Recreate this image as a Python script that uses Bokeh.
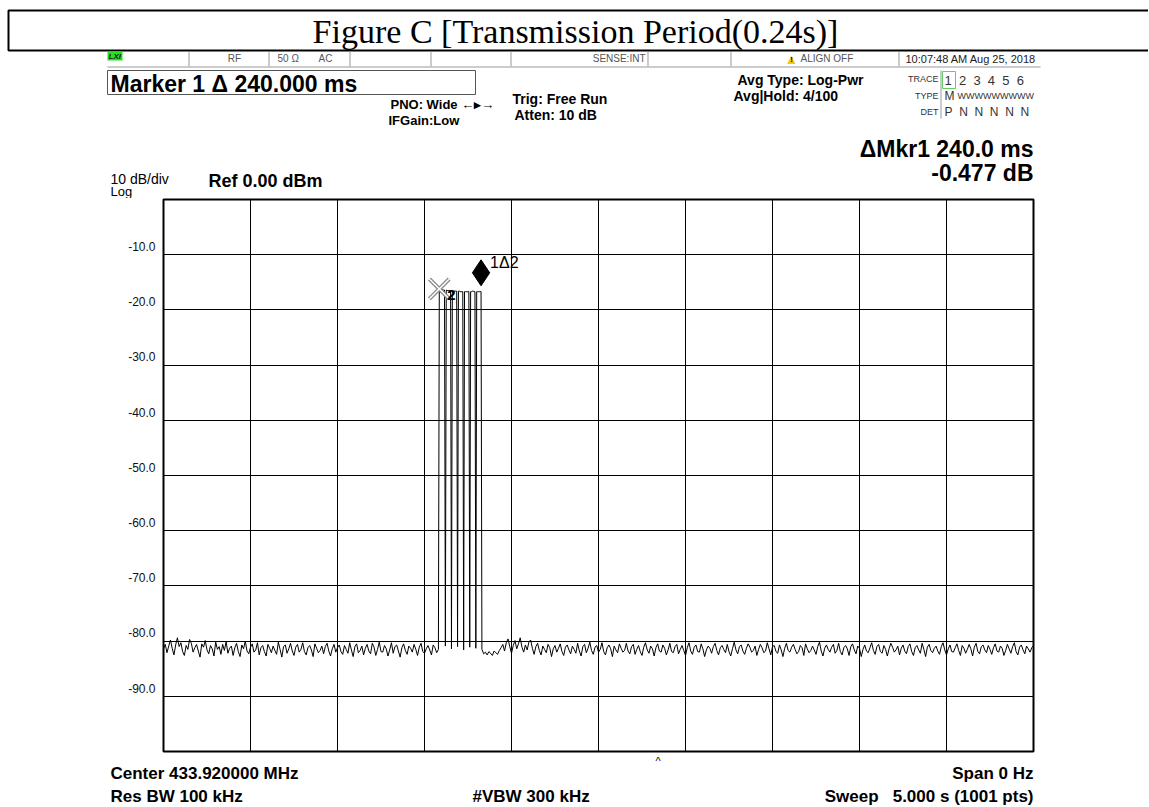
from bokeh.plotting import figure
from bokeh.models import (Range1d, FixedTicker, PrintfTickFormatter, Label,
                          BoxAnnotation, LinearAxis)
from bokeh.embed import file_html
from bokeh.resources import INLINE
import numpy as np

# ---------------- data ----------------
SWEEP_S = 5.0
REF_DBM = 0.0
DB_PER_DIV = 10.0
Y_TICKS = [-10, -20, -30, -40, -50, -60, -70, -80, -90]
X_GRID = [0.5, 1.0, 1.5, 2.0, 2.5, 3.0, 3.5, 4.0, 4.5]

BEFORE_T0, BEFORE_STEP = 0.0, 0.01
noise_before_db = [
    -81.4, -80.6, -82.1, -80.9, -79.8, -81.3, -82.5, -80.7, -79.4, -81.0,
    -80.3, -81.9, -82.6, -80.8, -81.5, -79.7, -80.4, -82.0, -81.2, -80.6,
    -81.8, -82.9, -80.5, -81.1, -79.9, -81.6, -82.3, -80.8, -81.4, -82.7,
    -80.2, -81.5, -81.0, -82.4, -80.6, -81.7, -80.1, -82.2, -81.3, -80.9,
    -82.6, -81.2, -80.4, -81.9, -82.8, -80.7, -81.4, -80.0, -81.8, -82.3,
    -81.1, -80.5, -82.0, -81.6, -80.3, -82.5, -81.2, -80.8, -81.9, -82.7,
    -80.6, -81.3, -82.1, -80.9, -81.7, -82.4, -80.2, -81.5, -82.9, -81.0,
    -80.7, -82.2, -81.4, -80.4, -81.8, -82.6, -81.1, -80.6, -82.0, -81.5,
    -80.3, -81.9, -82.5, -81.2, -80.8, -81.6, -82.8, -80.5, -81.3, -82.1,
    -81.7, -80.9, -82.3, -81.0, -80.4, -81.8, -82.7, -81.4, -80.6, -82.0,
    -81.2, -80.7, -81.9, -82.4, -80.8, -81.5, -82.2, -80.3, -81.6, -82.8,
    -81.0, -80.5, -82.1, -81.7, -80.9, -82.5, -81.3, -80.6, -81.8, -82.3,
    -80.4, -81.1, -82.6, -81.5, -80.2, -81.9, -82.0, -80.8, -81.4, -82.7,
    -81.6, -80.3, -82.2, -81.0, -80.7, -81.8, -82.9, -81.2, -80.5, -81.7,
    -82.4, -80.9, -81.3, -82.0, -80.6, -81.5, -82.6, -81.1, -80.4, -81.9,
    -82.2, -81.4, -80.8, -81.6, -82.5, -80.7, -81.2, -82.1, -81.5,
]

PULSE_T0, PULSE_STEP = 1.585, 0.005
pulse_db = [
    -16.2, -16.2, -16.3, -16.3, -16.3, -16.4, -16.4, -80.9,
    -16.4, -16.5, -16.5, -16.5, -16.5, -16.5, -81.4,
    -16.6, -16.6, -16.6, -16.6, -16.6, -16.6, -81.0,
    -16.6, -16.6, -16.7, -16.7, -16.7, -16.7, -81.6,
    -16.7, -16.7, -16.7, -16.7, -16.7, -16.7, -81.1,
    -16.7, -16.7, -16.6, -16.6, -16.7, -16.7, -81.3,
    -16.7, -16.7, -16.7, -16.7, -16.7, -16.68, -81.5,
]

AFTER_T0, AFTER_STEP = 1.84, 0.01
noise_after_db = [
    -82.3, -82.0, -82.5, -81.9, -82.2, -82.6, -81.8, -82.1, -82.4, -81.7,
    -81.2, -80.6, -81.8, -80.3, -79.6, -81.0, -82.2, -80.8, -79.9, -81.4,
    -80.5, -79.4, -81.1, -82.0, -80.7, -81.6, -80.2, -79.8, -81.3, -82.4,
    -81.0, -80.4, -81.7, -82.5, -80.9, -81.5, -82.1, -80.6, -81.2, -82.8,
    -81.4, -80.8, -82.0, -81.3, -80.5, -81.9, -82.6, -81.1, -80.7, -81.6,
    -82.3, -80.9, -81.5, -82.2, -80.4, -81.8, -82.7, -81.0, -80.6, -82.1,
    -81.3, -80.2, -81.7, -82.4, -81.1, -80.8, -82.0, -81.5, -80.3, -81.9,
    -82.5, -81.2, -80.7, -81.4, -82.8, -80.9, -81.6, -82.1, -80.5, -81.3,
    -82.0, -81.7, -80.4, -81.8, -82.3, -81.0, -80.6, -82.4, -81.5, -80.8,
    -81.9, -82.6, -81.1, -80.3, -81.6, -82.2, -80.9, -81.4, -82.7, -81.2,
    -80.5, -81.8, -82.0, -80.7, -81.3, -82.5, -81.6, -80.4, -81.9, -82.1,
    -81.0, -80.6, -82.3, -81.5, -80.8, -81.7, -82.6, -81.2, -80.3, -81.8,
    -82.4, -81.1, -80.7, -81.9, -82.0, -80.5, -81.4, -82.8, -81.6, -80.9,
    -81.3, -82.2, -81.0, -80.4, -81.7, -82.5, -81.2, -80.8, -81.5, -82.1,
    -80.6, -81.9, -82.7, -81.4, -80.2, -81.6, -82.3, -81.0, -80.7, -81.8,
    -82.4, -81.3, -80.5, -81.1, -82.0, -81.7, -80.9, -82.6, -81.5, -80.6,
    -81.2, -82.1, -81.8, -80.3, -81.4, -82.5, -81.0, -80.8, -81.9, -82.2,
    -80.7, -81.6, -82.8, -81.3, -80.4, -81.7, -82.0, -81.1, -80.6, -81.5,
    -82.3, -81.9, -80.8, -81.2, -82.6, -80.5, -81.4, -82.1, -81.7, -80.9,
    -81.6, -82.4, -81.0, -80.2, -81.8, -82.7, -81.3, -80.7, -81.5, -82.0,
    -81.1, -80.6, -82.2, -81.7, -80.4, -81.9, -82.5, -81.2, -80.8, -81.4,
    -82.6, -81.0, -80.5, -81.6, -82.3, -80.9, -81.3, -82.8, -81.5, -80.7,
    -81.8, -82.1, -81.2, -80.3, -81.7, -82.4, -81.0, -80.6, -81.9, -82.2,
    -80.8, -81.5, -82.7, -81.4, -80.4, -81.1, -82.0, -81.6, -80.9, -82.5,
    -81.3, -80.7, -81.8, -82.3, -81.0, -80.5, -81.9, -82.6, -81.2, -80.8,
    -81.6, -82.2, -80.4, -81.5, -82.8, -81.1, -80.6, -81.7, -82.1, -81.3,
    -80.9, -81.8, -82.4, -81.0, -80.3, -81.6, -82.5, -81.4, -80.7, -81.9,
    -82.0, -81.2, -80.5, -81.7, -82.6, -80.8, -81.3, -82.2, -81.5, -80.6,
    -81.4, -82.7, -81.1, -80.4, -81.9, -82.3, -81.0, -80.7, -81.6, -82.1,
    -80.8, -81.5, -82.4, -81.2, -80.5, -81.8, -82.0, -80.9, -81.3, -82.6,
    -81.7, -80.6, -81.4, -82.2, -81.0, -80.3, -81.9, -82.5, -81.1, -80.7,
    -81.6, -82.3, -80.9, -81.4, -82.0, -81.2, -80.8,
]

MARKER2_IDX = 0          # index in pulse_db
MARKER1_IDX = 48         # index in pulse_db

# ---------------- build trace ----------------
t_before = BEFORE_T0 + BEFORE_STEP * np.arange(len(noise_before_db))
t_pulse = PULSE_T0 + PULSE_STEP * np.arange(len(pulse_db))
t_after = AFTER_T0 + AFTER_STEP * np.arange(len(noise_after_db))
t = np.concatenate([t_before, t_pulse, t_after])
db = np.concatenate([noise_before_db, pulse_db, noise_after_db])

m2_t, m2_db = t_pulse[MARKER2_IDX], pulse_db[MARKER2_IDX]
m1_t, m1_db = t_pulse[MARKER1_IDX], pulse_db[MARKER1_IDX]

# ---------------- layout constants (picture pixels) ----------------
W = 1148
HDR_H = 198
FL, FW, FH = 163, 870, 552
MAIN_H = FH + 3
FTR_H = 806 - HDR_H - MAIN_H
FTR_Y0 = HDR_H + MAIN_H
FONT = "Liberation Sans"
SP = "\u00a0"


def panel(height, y0):
    f = figure(width=W, height=height, title=None,
               x_range=Range1d(0, W), y_range=Range1d(y0 + height, y0),
               x_axis_type=None, y_axis_type=None,
               output_backend="svg", toolbar_location=None, min_border=0)
    f.outline_line_color = None
    f.background_fill_color = "white"
    f.border_fill_color = "white"
    return f


def lab(f, text, px, py, size, bold=False, align="left", color="black",
        font=FONT, italic=False):
    style = "bold" if bold else "normal"
    if italic:
        style = "bold italic" if bold else "italic"
    f.add_layout(Label(x=px, y=py, text=text, text_font=font,
                       text_font_size=f"{size}px", text_font_style=style,
                       text_align=align, text_baseline="middle",
                       text_color=color))


def box(f, x0, y0, x1, y1, line_color=None, fill_color=None, lw=1):
    f.add_layout(BoxAnnotation(left=x0, right=x1, top=y0, bottom=y1,
                               fill_color=fill_color if fill_color else "white",
                               fill_alpha=1 if fill_color else 0,
                               line_color=line_color if line_color else "white",
                               line_alpha=1 if line_color else 0,
                               line_width=lw))


# ---------------- header ----------------
hdr = panel(HDR_H, 0)
box(hdr, 8, 10, 1170, 50, line_color="black", lw=2)
lab(hdr, "Figure C [Transmission Period(0.24s)]", 575, 31, 34,
    align="center", font="Liberation Serif")

box(hdr, 107, 66, 1040, 67, fill_color="#9a9a9a")
for xs in [188, 268, 349, 430, 510, 647, 730, 898]:
    box(hdr, xs, 51, xs + 1, 66, fill_color="#9a9a9a")
box(hdr, 107, 51, 122, 60, fill_color="#22e022")
lab(hdr, "LXI", 108, 56, 8, bold=True, italic=True, color="#1a1a1a")
lab(hdr, "RF", 234, 58, 10, align="center", color="#555555")
lab(hdr, "50 \u03a9", 277, 58, 10, color="#555555")
lab(hdr, "AC", 318, 58, 10, color="#555555")
lab(hdr, "SENSE:INT", 645, 58, 10, align="right", color="#555555")
lab(hdr, "\u25b2", 791, 58, 14, align="center", color="#f0cc00")
lab(hdr, "!", 791, 59, 8, bold=True, align="center", color="black")
lab(hdr, "ALIGN OFF", 800, 58, 10, color="#555555")
lab(hdr, "10:07:48 AM Aug 25, 2018", 905, 58, 11, color="#222222")

box(hdr, 107, 70, 475, 94, line_color="#555555", lw=1)
lab(hdr, "Marker 1 \u0394 240.000 ms", 110, 83, 23, bold=True)

lab(hdr, "PNO: Wide \u2190\u25b8\u2192", 390, 104, 13, bold=True)
lab(hdr, "IFGain:Low", 388, 120, 13, bold=True)
lab(hdr, "Trig: Free Run", 512, 98, 14, bold=True)
lab(hdr, "Atten: 10 dB", 514, 114, 14, bold=True)
lab(hdr, "Avg Type: Log-Pwr", 737, 79, 14, bold=True)
lab(hdr, "Avg|Hold: 4/100", 733, 95, 14, bold=True)

box(hdr, 940, 70, 941, 118, fill_color="#9a9a9a")
box(hdr, 942, 71, 955, 88, line_color="#66cc66", lw=1)
lab(hdr, "TRACE", 938, 78, 9, align="right", color="#333333")
lab(hdr, (SP * 2).join("123456"), 944, 80, 13, color="#333333")
lab(hdr, "TYPE", 938, 95, 9, align="right", color="#333333")
lab(hdr, "M", 944, 95, 12, color="#333333")
lab(hdr, "W" * 9, 957, 95, 9, color="#333333")
lab(hdr, "DET", 938, 111, 9, align="right", color="#333333")
lab(hdr, (SP * 2).join("PNNNNN"), 944, 111, 12, color="#333333")

lab(hdr, "\u0394Mkr1 240.0 ms", 1033, 148, 23, bold=True, align="right")
lab(hdr, "-0.477 dB", 1033, 172, 23, bold=True, align="right")

lab(hdr, "10 dB/div", 110, 178, 14)
lab(hdr, "Ref 0.00 dBm", 208, 180, 18, bold=True)
lab(hdr, "Log", 110, 191, 13)

# ---------------- main graticule ----------------
LABEL_LIFT_DB = 1.5
p = figure(width=W, height=MAIN_H, title=None,
           x_range=Range1d(0, SWEEP_S),
           y_range=Range1d(REF_DBM - 10 * DB_PER_DIV, REF_DBM),
           output_backend="svg", toolbar_location=None,
           min_border_left=FL, min_border_right=W - FL - FW,
           min_border_top=1, min_border_bottom=2)
p.background_fill_color = "white"
p.border_fill_color = "white"
p.outline_line_color = "black"
p.outline_line_width = 2

p.xaxis.visible = False
p.yaxis.visible = False
p.xgrid.ticker = FixedTicker(ticks=X_GRID)
p.ygrid.ticker = FixedTicker(ticks=Y_TICKS)
p.grid.grid_line_color = "black"
p.grid.grid_line_width = 1

p.extra_y_ranges = {"labels": Range1d(REF_DBM - 10 * DB_PER_DIV - LABEL_LIFT_DB,
                                      REF_DBM - LABEL_LIFT_DB)}
yax = LinearAxis(y_range_name="labels", ticker=FixedTicker(ticks=Y_TICKS),
                 formatter=PrintfTickFormatter(format="%.1f"))
yax.axis_line_color = None
yax.major_tick_line_color = None
yax.minor_tick_line_color = None
yax.major_label_text_font = FONT
yax.major_label_text_font_size = "12px"
yax.major_label_text_color = "#111111"
yax.major_label_standoff = 2
p.add_layout(yax, "left")

p.line(t, db, line_color="black", line_width=1)

p.scatter([m2_t], [m2_db], marker="x", size=28, line_color="#8a8a8a", line_width=4)
p.scatter([m2_t], [m2_db], marker="x", size=28, line_color="white", line_width=1.5)
p.add_layout(Label(x=m2_t, y=m2_db, x_offset=8, y_offset=-6, text="2",
                   text_font=FONT, text_font_size="15px", text_font_style="bold",
                   text_baseline="middle", text_color="black"))

DIAMOND_LIFT_DB = 3.4
p.scatter([m1_t], [m1_db + DIAMOND_LIFT_DB], marker="diamond", size=26,
          fill_color="black", line_color="black")
p.add_layout(Label(x=m1_t, y=m1_db, x_offset=9, y_offset=29, text="1\u03942",
                   text_font=FONT, text_font_size="16px",
                   text_baseline="middle", text_color="black"))

# ---------------- footer ----------------
ftr = panel(FTR_H, FTR_Y0)
lab(ftr, "^", 655, 760, 11)
lab(ftr, "Center 433.920000 MHz", 110, 773, 17, bold=True)
lab(ftr, "Res BW 100 kHz", 110, 796, 17, bold=True)
lab(ftr, "#VBW 300 kHz", 472, 796, 17, bold=True)
lab(ftr, "Span 0 Hz", 1033, 773, 17, bold=True, align="right")
lab(ftr, "Sweep" + SP * 3 + "5.000 s (1001 pts)", 1033, 796, 17, bold=True, align="right")

open("out.html", "w").write(file_html([hdr, p, ftr], INLINE))
